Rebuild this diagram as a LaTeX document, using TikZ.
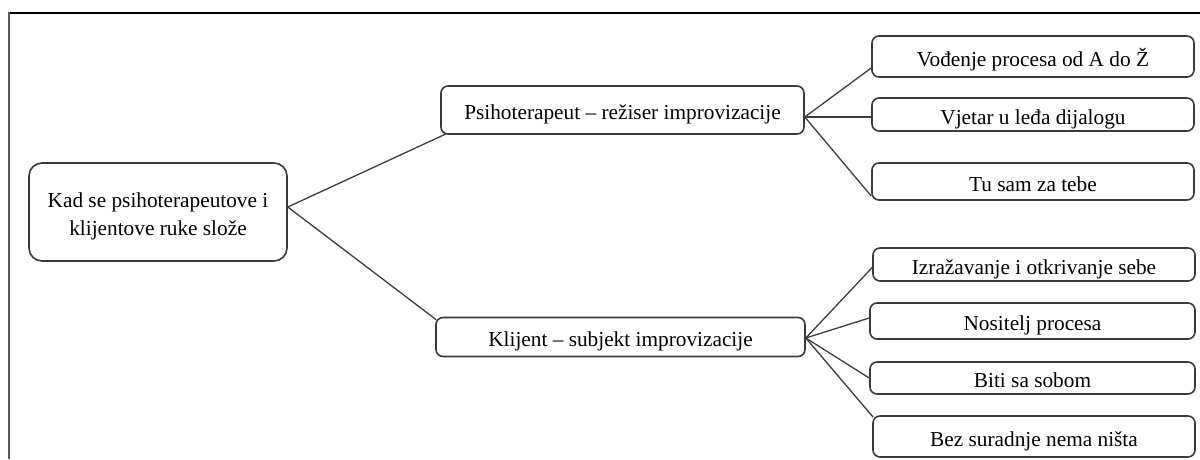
\documentclass[tikz,border=0pt]{standalone}
\usepackage{fontspec}
\setmainfont{Liberation Serif}
\definecolor{boxline}{HTML}{3A3A3A}
\definecolor{conline}{HTML}{3C3C3C}
\begin{document}
\begin{tikzpicture}[x=1pt,y=-1pt,
  box/.style={draw=boxline, line width=1.6pt, rounded corners=7pt, inner sep=0pt, align=center,
    font=\fontsize{21.3}{28}\selectfont, text=black, text height=23pt, text depth=4pt},
  con/.style={draw=conline, line width=1.3pt}]
\useasboundingbox (0,0) rectangle (1200,459);
% frame (cropped)
\draw[line width=1.8pt, black] (9,13) -- (1200,13);
\draw[line width=2.6pt, black!65] (9,12.2) -- (9,459);
% nodes
\node[box, rounded corners=13pt, minimum width=258pt, minimum height=98pt,
  text height=22pt, text depth=32pt] (root) at (158,212)
  {\setlength{\tabcolsep}{0pt}\begin{tabular}[t]{c}Kad se psihoterapeutove i\\klijentove ruke slože\end{tabular}};
\node[box, minimum width=363pt, minimum height=48pt] (psih) at (622.5,110)
  {Psihoterapeut – režiser improvizacije};
\node[box, minimum width=322pt, minimum height=41pt] (t1) at (1033,56.5)
  {Vođenje procesa od A do Ž};
\node[box, minimum width=322pt, minimum height=33pt] (t2) at (1033,114.5)
  {Vjetar u leđa dijalogu};
\node[box, minimum width=322pt, minimum height=37pt] (t3) at (1033,181.5)
  {Tu sam za tebe};
\node[box, minimum width=369pt, minimum height=39pt] (kl) at (620.5,337)
  {Klijent – subjekt improvizacije};
\node[box, minimum width=322pt, minimum height=33pt] (b1) at (1034,264.5)
  {Izražavanje i otkrivanje sebe};
\node[box, minimum width=325pt, minimum height=36pt] (b2) at (1032.5,321)
  {Nositelj procesa};
\node[box, minimum width=325pt, minimum height=32pt] (b3) at (1032.5,378)
  {Biti sa sobom};
\node[box, minimum width=322pt, minimum height=41pt] (b4) at (1034,436.5)
  {Bez suradnje nema ništa};
% connectors
\draw[con] ([yshift=5pt]root.east) -- ([xshift=6pt,yshift=1pt]psih.south west);
\draw[con] ([yshift=5pt]root.east) -- ([xshift=1pt,yshift=-3pt]kl.north west);
\draw[con] ([yshift=-7pt]psih.east) -- ([yshift=-11.5pt]t1.west);
\draw[con] ([yshift=-7pt]psih.east) -- ([yshift=-2.5pt]t2.west);
\draw[con] ([yshift=-7pt]psih.east) -- ([yshift=-14.5pt]t3.west);
\draw[con] ([yshift=-1pt]kl.east) -- ([yshift=-3pt]b1.west);
\draw[con] ([yshift=-1pt]kl.east) -- ([yshift=3pt]b2.west);
\draw[con] ([yshift=-1pt]kl.east) -- (b3.west);
\draw[con] ([yshift=-1pt]kl.east) -- ([xshift=1pt,yshift=-2pt]b4.north west);
\end{tikzpicture}
\end{document}
